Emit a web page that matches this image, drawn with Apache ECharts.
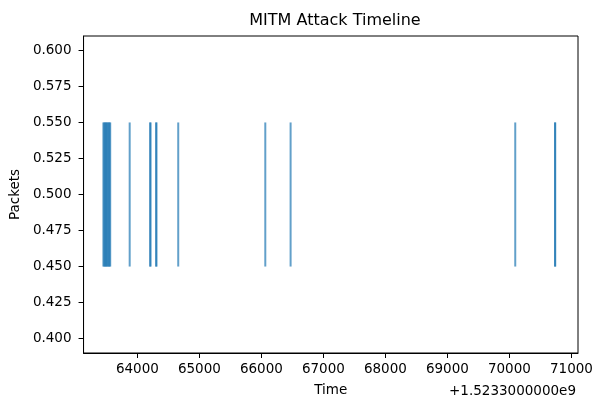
<!DOCTYPE html>
<html>
<head>
<meta charset="utf-8">
<script src="https://cdn.jsdelivr.net/npm/echarts@6/dist/echarts.min.js"></script>
<style>html,body{margin:0;padding:0;background:#fff}#c{width:596px;height:402px}</style>
</head>
<body>
<div id="c"></div>
<script>
// Event times (offset from 1.5233e9 seconds)
const eventTimes = [
  63452, 63466, 63479, 63494, 63508, 63522, 63537, 63549, 63562,
  63876,
  64207, 64211,
  64303, 64307,
  64659,
  66063,
  66471,
  70094,
  70735, 70739
];
const lineOffset = 0.5;
const lineLength = 0.1;
const xTicks = [64000, 65000, 66000, 67000, 68000, 69000, 70000, 71000];
const yTicks = [0.400, 0.425, 0.450, 0.475, 0.500, 0.525, 0.550, 0.575, 0.600];
const offsetText = '+1.5233000000e9';

const font = 'DejaVu Sans';
const chart = echarts.init(document.getElementById('c'));
chart.setOption({
  animation: false,
  backgroundColor: '#fff',
  title: {
    text: 'MITM Attack Timeline', left: 330, top: 8, textAlign: 'center',
    textStyle: { fontFamily: font, fontSize: 16, fontWeight: 'normal', color: '#000' }
  },
  grid: { left: 82, right: 18, top: 36, bottom: 46, show: true, borderColor: '#000', borderWidth: 1 },
  xAxis: {
    type: 'value', min: 63132, max: 71106,
    name: 'Time', nameLocation: 'middle', nameGap: 30,
    nameTextStyle: { fontFamily: font, fontSize: 13.5, color: '#000' },
    axisLine: { show: true, onZero: false, lineStyle: { color: '#000' } },
    axisTick: { show: true, length: 5, customValues: xTicks, lineStyle: { color: '#000' } },
    axisLabel: { customValues: xTicks, margin: 9, fontFamily: font, fontSize: 13.5, color: '#000',
      formatter: v => String(v) },
    splitLine: { show: false }
  },
  yAxis: {
    type: 'value', min: 0.39, max: 0.61,
    name: 'Packets', nameLocation: 'middle', nameGap: 60,
    nameTextStyle: { fontFamily: font, fontSize: 13.5, color: '#000' },
    axisLine: { show: true, onZero: false, lineStyle: { color: '#000' } },
    axisTick: { show: true, length: 5, customValues: yTicks, lineStyle: { color: '#000' } },
    axisLabel: { customValues: yTicks, margin: 12, fontFamily: font, fontSize: 13.5, color: '#000',
      formatter: v => v.toFixed(3) },
    splitLine: { show: false }
  },
  graphic: [{
    type: 'text', right: 20, top: 384,
    style: { text: offsetText, fontFamily: font, fontSize: 13.5, fill: '#000' }
  }],
  series: [{
    type: 'custom',
    data: eventTimes.map(t => [t]),
    renderItem: function (params, api) {
      const t = api.value(0);
      const p0 = api.coord([t, lineOffset - lineLength / 2]);
      const p1 = api.coord([t, lineOffset + lineLength / 2]);
      return {
        type: 'line',
        shape: { x1: p0[0], y1: p0[1], x2: p1[0], y2: p1[1] },
        style: { stroke: '#1f77b4', lineWidth: 2, opacity: 0.7 }
      };
    }
  }]
});
</script>
</body>
</html>
